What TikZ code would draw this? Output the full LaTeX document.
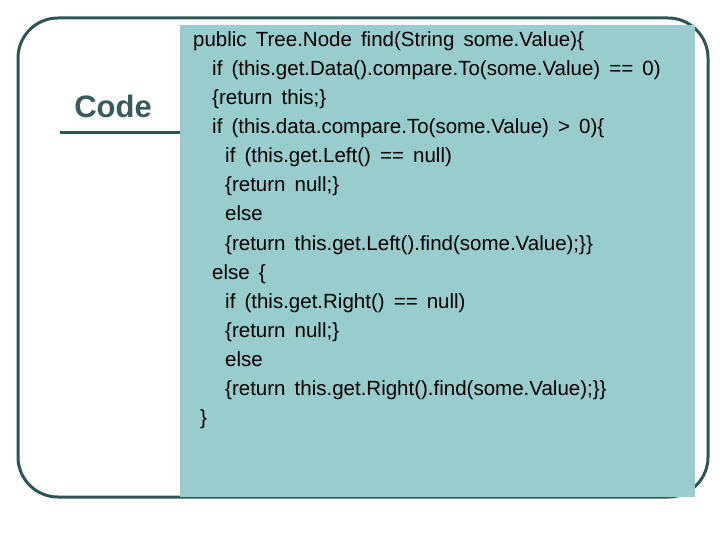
\documentclass[tikz,border=0pt]{standalone}
\usepackage{fontspec}
\setmainfont{Liberation Sans}[WordSpace={1.6}]
\definecolor{framecol}{HTML}{2F5555}
\definecolor{codebg}{HTML}{99CCCC}
\tikzset{
    codeline/.style={anchor=base west,inner sep=0pt,font=\fontsize{20.5}{22}\selectfont},
    frame/.style={draw=framecol,line width=3pt,rounded corners=40pt}
}
\begin{document}
\begin{tikzpicture}[x=1pt,y=-1pt]
    \useasboundingbox (0,0) rectangle (720,540);
    \draw[frame] (18,18) rectangle (708,497);
    \fill[codebg] (180,25) rectangle (695,497);
    \node[anchor=base,font=\fontsize{31}{34}\selectfont\bfseries,text=framecol!85!gray] (title) at (113,118) {Code};
    \draw[framecol,line width=3pt] (60,133) -- (180,133);
    % code lines
    \foreach \i/\dx/\txt in {1/193/{public Tree.Node find(String some.Value)\{},
        2/212/{if (this.get.Data().compare.To(some.Value) == 0)},
        3/212/{\{return this;\}},
        4/212/{if (this.data.compare.To(some.Value) > 0)\{},
        5/225/{if (this.get.Left() == null)},
        6/225/{\{return null;\}},
        7/225/{else},
        8/225/{\{return this.get.Left().find(some.Value);\}\}},
        9/212/{else \{},
        10/225/{if (this.get.Right() == null)},
        11/225/{\{return null;\}},
        12/225/{else},
        13/225/{\{return this.get.Right().find(some.Value);\}\}},
        14/200/{\}}}
        \node[codeline] (l\i) at (\dx,{47+29*(\i-1)}) {\txt};
\end{tikzpicture}
\end{document}
